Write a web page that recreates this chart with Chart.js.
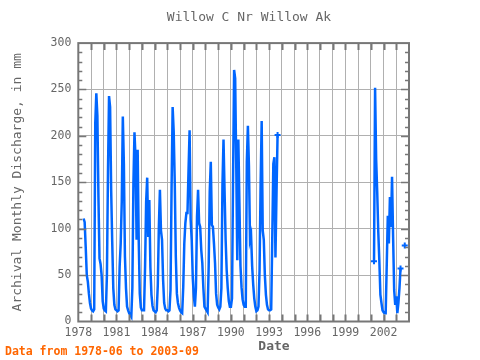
<!DOCTYPE html>
<html>
<head>
<meta charset="utf-8">
<script src="https://cdn.jsdelivr.net/npm/chart.js@4.4.1/dist/chart.umd.min.js"></script>
<style>
  body { margin: 0; background: #fff; }
  #wrap { width: 480px; height: 360px; position: relative; }
</style>
</head>
<body>
<div id="wrap"><canvas id="flowChart"></canvas></div>
<script>
// monthly discharge (mm), Jan..Dec, null = no record
const y1978 = [null, null, null, null, null, 111, 107, 80, 50, 43, 30, 20];
const y1979 = [14, 12, 11, 13, 214, 246, 222, 134, 68, 62, 50, 22];
const y1980 = [14, 12, 11, 50, 161, 243, 231, 142, 86, 36, 18, 13];
const y1981 = [12, 11, 12, 59, 84, 129, 221, 170, 70, 36, 16, 12];
const y1982 = [9, 7, 5, 36, 149, 204, 176, 88, 185, 88, 30, 15];
const y1983 = [12, 12, 12, 59, 129, 155, 91, 131, 59, 29, 17, 12];
const y1984 = [11, 10, 12, 39, 102, 142, 98, 88, 45, 20, 14, 12];
const y1985 = [12, 11, 12, 34, 144, 231, 205, 150, 70, 30, 20, 15];
const y1986 = [12, 10, 9, 37, 84, 106, 117, 117, 163, 206, 110, 88];
const y1987 = [47, 27, 16, 36, 113, 142, 106, 102, 77, 63, 36, 16];
const y1988 = [14, 12, 10, 59, 140, 172, 104, 102, 84, 63, 30, 18];
const y1989 = [15, 13, 16, 36, 147, 196, 140, 88, 55, 36, 22, 16];
const y1990 = [16, 25, 152, 271, 262, 170, 66, 196, 128, 60, 37, 24];
const y1991 = [18, 16, 16, 172, 211, 167, 88, 93, 60, 40, 25, 16];
const y1992 = [11, 12, 16, 55, 147, 216, 98, 88, 50, 29, 18, 13];
const y1993 = [12, 12, 13, 90, 170, 177, 69, 138, 201, null, null, null];
const y2001 = [null, null, null, 65, 252, 175, 140, 97, 66, 29, 20, 12];
const y2002 = [10, 9, 9, 61, 114, 84, 134, 102, 156, 91, 34, 18];
const y2003 = [27, 9, 20, 36, 57, null, null, null, 82, null, null, null];

const yearRows = {
  1978: y1978, 1979: y1979, 1980: y1980, 1981: y1981, 1982: y1982, 1983: y1983,
  1984: y1984, 1985: y1985, 1986: y1986, 1987: y1987, 1988: y1988, 1989: y1989,
  1990: y1990, 1991: y1991, 1992: y1992, 1993: y1993,
  2001: y2001, 2002: y2002, 2003: y2003
};

const xTickLabels = [1978, 1981, 1984, 1987, 1990, 1993, 1996, 1999, 2002];
const yTicks = [0, 50, 100, 150, 200, 250, 300];

// build points month by month from 1978-06 to 2003-09
const points = [];
for (let yr = 1978; yr <= 2003; yr++) {
  for (let m = 0; m < 12; m++) {
    if (yr === 1978 && m < 5) continue;
    if (yr === 2003 && m > 8) continue;
    const row = yearRows[yr];
    const v = row ? row[m] : null;
    points.push({ x: yr + m / 12, y: v == null ? null : v });
  }
}

const grayText = "#666666";
const frameColor = "#777777";

const frameAndTicks = {
  id: "frameAndTicks",
  afterDraw(chart) {
    const { ctx, chartArea: a, scales } = chart;
    ctx.save();
    ctx.strokeStyle = frameColor;
    ctx.lineWidth = 2;
    ctx.beginPath();
    // year ticks top & bottom
    for (let yr = 1979; yr < 2004; yr++) {
      const px = Math.round(scales.x.getPixelForValue(yr)) + 0.5;
      ctx.moveTo(px, a.top); ctx.lineTo(px, a.top + 7);
      ctx.moveTo(px, a.bottom); ctx.lineTo(px, a.bottom - 7);
    }
    ctx.stroke();
    ctx.lineWidth = 1.5;
    ctx.beginPath();
    for (let v = 10; v < 300; v += 10) {
      const py = Math.round(scales.y.getPixelForValue(v)) + 0.5;
      const len = v % 50 === 0 ? 8 : 4;
      ctx.moveTo(a.left, py); ctx.lineTo(a.left + len, py);
      ctx.moveTo(a.right, py); ctx.lineTo(a.right - len, py);
    }
    ctx.stroke();
    ctx.lineWidth = 2;
    ctx.strokeRect(a.left, a.top, a.right - a.left, a.bottom - a.top);

    ctx.textAlign = "center";
    ctx.textBaseline = "middle";
    ctx.fillStyle = grayText;
    ctx.font = "bold 13px 'DejaVu Sans Mono'";
    ctx.fillText("Date", 274, 347);
    ctx.textAlign = "left";
    ctx.fillStyle = "#ff6600";
    ctx.font = "bold 11.5px 'DejaVu Sans Mono'";
    ctx.fillText("Data from 1978-06 to 2003-09", 5, 352);
    ctx.restore();
  }
};

new Chart(document.getElementById("flowChart"), {
  type: "line",
  data: {
    datasets: [{
      data: points,
      borderColor: "#0066ff",
      backgroundColor: "#0066ff",
      borderWidth: 2.5,
      tension: 0,
      spanGaps: false,
      pointStyle: "cross",
      pointBorderWidth: 2,
      pointRadius: (c) => {
        const d = c.dataset.data;
        const i = c.dataIndex;
        if (d[i].y == null) return 0;
        const prev = d[i - 1], next = d[i + 1];
        // mark points that sit next to a gap in the record
        return ((prev && prev.y == null) || (next && next.y == null)) ? 3 : 0;
      }
    }]
  },
  options: {
    responsive: true,
    maintainAspectRatio: false,
    animation: false,
    layout: { padding: { left: 18, right: 0, top: 0, bottom: 0 } },
    plugins: {
      legend: { display: false },
      tooltip: { enabled: false },
      title: {
        display: true,
        text: "Willow C Nr Willow Ak",
        color: grayText,
        font: { family: "'DejaVu Sans Mono'", size: 13, weight: "normal" },
        padding: { top: 9.5, bottom: 18 }
      }
    },
    scales: {
      x: {
        type: "linear",
        min: 1978,
        max: 2004,
        afterFit: (s) => { s.height = 38.5; },
        grid: { color: "#b0b0b0", lineWidth: 1, drawTicks: false },
        border: { display: false },
        ticks: {
          stepSize: 1,
          autoSkip: false,
          maxRotation: 0,
          padding: 5,
          color: grayText,
          font: { family: "'DejaVu Sans Mono'", size: 11.5 },
          callback: (v) => xTickLabels.includes(v) ? String(v) : ""
        }
      },
      y: {
        min: 0,
        max: 300,
        afterFit: (s) => { s.width = 60.3; },
        grid: { color: "#b0b0b0", lineWidth: 1, drawTicks: false },
        border: { display: false },
        afterBuildTicks: (s) => { s.ticks = yTicks.map(v => ({ value: v })); },
        ticks: {
          padding: 7,
          color: grayText,
          font: { family: "'DejaVu Sans Mono'", size: 11.5 }
        },
        title: {
          display: true,
          text: "Archival Monthly Discharge, in mm",
          color: grayText,
          font: { family: "'DejaVu Sans Mono'", size: 13, weight: "normal" },
          padding: { top: -8, bottom: 0 }
        }
      },
      yRight: {
        position: "right",
        min: 0,
        max: 300,
        afterFit: (s) => { s.width = 71; },
        grid: { display: false },
        border: { display: false },
        ticks: { display: false }
      }
    }
  },
  plugins: [frameAndTicks]
});
</script>
</body>
</html>
